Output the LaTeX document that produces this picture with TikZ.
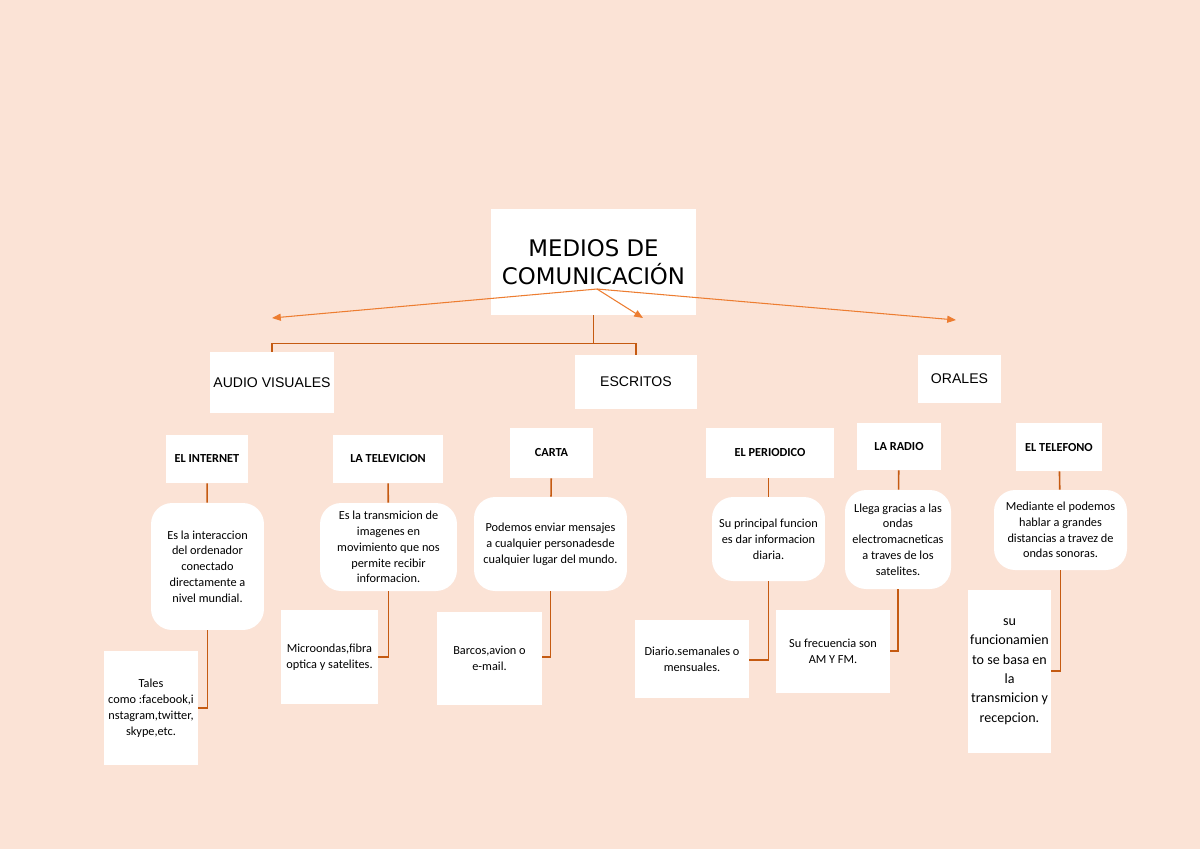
\documentclass[tikz,border=0pt]{standalone}
\usepackage{fontspec}
\setmainfont{Carlito}
\newfontfamily\headfont{DejaVu Sans}
\newfontfamily\levelfont{Liberation Sans}
\usetikzlibrary{arrows.meta}
\definecolor{peach}{HTML}{FBE3D6}
\definecolor{lineorange}{HTML}{C55A11}
\definecolor{arroworange}{HTML}{ED7D31}
\begin{document}
\begin{tikzpicture}[x=0.02cm,y=-0.02cm,
  box/.style={fill=white,inner sep=0pt,align=center,font=\fontsize{7}{9}\selectfont},
  rbox/.style={box,rounded corners=12pt},
  head/.style={box,font=\bfseries\fontsize{7}{9}\selectfont},
  level/.style={box,font=\levelfont\fontsize{8}{10}\selectfont},
  link/.style={draw=lineorange,line width=0.9pt},
  pointer/.style={draw=arroworange,line width=0.6pt,-{Triangle[length=5pt,width=4pt]}}]
\fill[peach] (0,0) rectangle (1200,849);
\useasboundingbox (0,0) rectangle (1200,849);
% top
\node[box,font=\headfont\fontsize{13}{16}\selectfont,minimum width=4.1cm,minimum height=2.12cm] (medios) at (593.5,262) {MEDIOS DE\\COMUNICACIÓN};
\node[level,minimum width=2.48cm,minimum height=1.22cm] (audio) at (272,382.5) {AUDIO VISUALES};
\node[level,minimum width=2.44cm,minimum height=1.08cm] (escritos) at (636,382) {ESCRITOS};
\node[level,minimum width=1.66cm,minimum height=0.96cm] (orales) at (959.5,379) {ORALES};
\coordinate (origin) at (597,289);
\coordinate (tipA) at (272,318);
\coordinate (tipB) at (643,318);
\coordinate (tipC) at (956,320);
\draw[pointer] (origin) -- (tipA);
\draw[pointer] (origin) -- (tipB);
\draw[pointer] (origin) -- (tipC);
\draw[link] (medios.south) -- ++(0,28) -| (audio.north);
\draw[link] (medios.south) ++(0,28) -| (escritos.north);
% heads
\node[head,minimum width=1.64cm,minimum height=0.96cm] (internet) at (207,459) {EL INTERNET};
\node[head,minimum width=2.2cm,minimum height=0.96cm] (tele) at (388,459) {LA TELEVICION};
\node[head,minimum width=1.66cm,minimum height=1cm] (carta) at (551.5,453) {CARTA};
\node[head,minimum width=2.56cm,minimum height=1cm] (periodico) at (770,453) {EL PERIODICO};
\node[head,minimum width=1.68cm,minimum height=0.94cm] (radio) at (899,446.5) {LA RADIO};
\node[head,minimum width=1.72cm,minimum height=0.96cm] (telefono) at (1059,447) {EL TELEFONO};
% descriptions
\node[rbox,minimum width=2.26cm,minimum height=2.54cm] (intdesc) at (207.5,566.5) {Es la interaccion\\del ordenador\\conectado\\directamente a\\nivel mundial.};
\node[rbox,minimum width=2.74cm,minimum height=1.76cm] (teledesc) at (388.5,547) {Es la transmicion de\\imagenes en\\movimiento que nos\\permite recibir\\informacion.};
\node[rbox,minimum width=3.06cm,minimum height=1.88cm] (cartadesc) at (550.5,544) {Podemos enviar mensajes\\a cualquier personadesde\\cualquier lugar del mundo.};
\node[rbox,minimum width=2.26cm,minimum height=1.68cm] (perdesc) at (768.5,539) {Su principal funcion\\es dar informacion\\diaria.};
\node[rbox,minimum width=2.12cm,minimum height=1.98cm] (radiodesc) at (898,539.5) {Llega gracias a las\\ondas\\electromacneticas\\a traves de los\\satelites.};
\node[rbox,minimum width=2.66cm,minimum height=1.6cm] (teldesc) at (1060.5,530) {Mediante el podemos\\hablar a grandes\\distancias a travez de\\ondas sonoras.};
% examples
\node[box,minimum width=1.88cm,minimum height=2.28cm] (tales) at (151,708) {Tales\\como :facebook,i\\nstagram,twitter,\\skype,etc.};
\node[box,minimum width=1.94cm,minimum height=1.88cm] (micro) at (329.5,657) {Microondas,fibra\\optica y satelites.};
\node[box,minimum width=2.1cm,minimum height=1.86cm] (barcos) at (489.5,658.5) {Barcos,avion o\\e-mail.};
\node[box,minimum width=2.28cm,minimum height=1.56cm] (diario) at (692,659) {Diario.semanales o\\mensuales.};
\node[box,minimum width=2.28cm,minimum height=1.66cm] (frecuencia) at (833,651.5) {Su frecuencia son\\AM Y FM.};
\node[box,minimum width=1.66cm,minimum height=3.26cm,font=\fontsize{8}{11}\selectfont] (funcion) at (1009.5,671.5) {su\\funcionamien\\to se basa en\\la\\transmicion y\\recepcion.};
% links
\draw[link] (internet) -- (intdesc);
\draw[link] (tele) -- (teledesc);
\draw[link] (carta) -- (cartadesc);
\draw[link] (periodico.south -| perdesc.north) -- (perdesc);
\draw[link] (radio) -- (radiodesc);
\draw[link] (telefono) -- (teldesc);
\draw[link] (intdesc.south) |- (tales.east |- 0,708);
\draw[link] (teledesc.south) |- (micro.east |- 0,657);
\draw[link] (cartadesc.south) |- (barcos.east |- 0,657);
\draw[link] (perdesc.south) |- (diario.east |- 0,660);
\draw[link] (radiodesc.south) |- (frecuencia.east |- 0,651);
\draw[link] (teldesc.south) |- (funcion.east |- 0,671);
\end{tikzpicture}
\end{document}
